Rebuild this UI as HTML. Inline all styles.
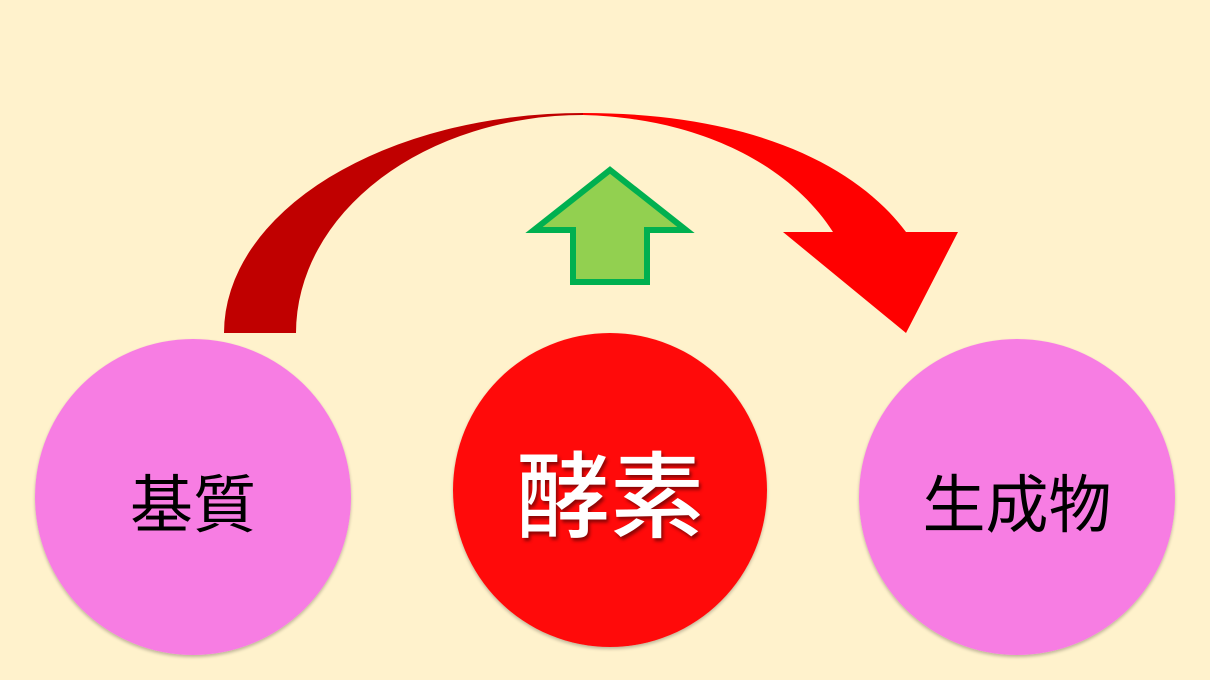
<!DOCTYPE html>
<html><head><meta charset="utf-8"><style>
html,body{margin:0;padding:0}
body{width:1210px;height:680px;background:#FFF2CC;position:relative;overflow:hidden;font-family:"Liberation Sans","Noto Sans CJK JP",sans-serif}
.c{position:absolute;border-radius:50%;display:flex;align-items:center;justify-content:center}
.p{background:radial-gradient(circle at 50% 45%,#F77DE3 0%,#F77DE3 80%,#E86AD4 93%,#C85AB8 100%);box-shadow:0 2px 3px rgba(0,0,0,.25)}
.r{background:radial-gradient(circle at 50% 45%,#FF0A0A 0%,#FF0A0A 80%,#EE0000 93%,#C00000 100%);box-shadow:0 2px 3px rgba(0,0,0,.25)}
</style></head><body>
<svg width="1210" height="680" style="position:absolute;left:0;top:0">
<path d="M224,333 A359,220 0 0 1 583,113 L583,115 A287,218 0 0 0 296,333 Z" fill="#C00000"/>
<path d="M583,113 C760,113 860,170 906,232 L958,232 L906,333 L783,232 L833,232 C790,165 700,118 583,115 Z" fill="#FF0000"/>
<path d="M610,173 L681,228 L647,228 L647,281 L574,281 L574,228 L539,228 Z" fill="#92D050"/>
<path d="M610,170 L686,230 L647,230 L647,282 L573,282 L573,230 L534,230 Z" fill="none" stroke="#00B050" stroke-width="6" stroke-linejoin="miter"/>
</svg>
<div class="c p" style="left:35px;top:339px;width:316px;height:316px;font-size:63px;color:#000;padding-top:6px;box-sizing:border-box">基質</div>
<div class="c r" style="left:453px;top:333px;width:314px;height:314px;font-size:94px;font-weight:500;color:#fff;text-shadow:2px 3px 3px rgba(0,0,0,.45);padding-top:0;box-sizing:border-box">酵素</div>
<div class="c p" style="left:859px;top:339px;width:316px;height:316px;font-size:63px;color:#000;padding-top:6px;box-sizing:border-box">生成物</div>
</body></html>
